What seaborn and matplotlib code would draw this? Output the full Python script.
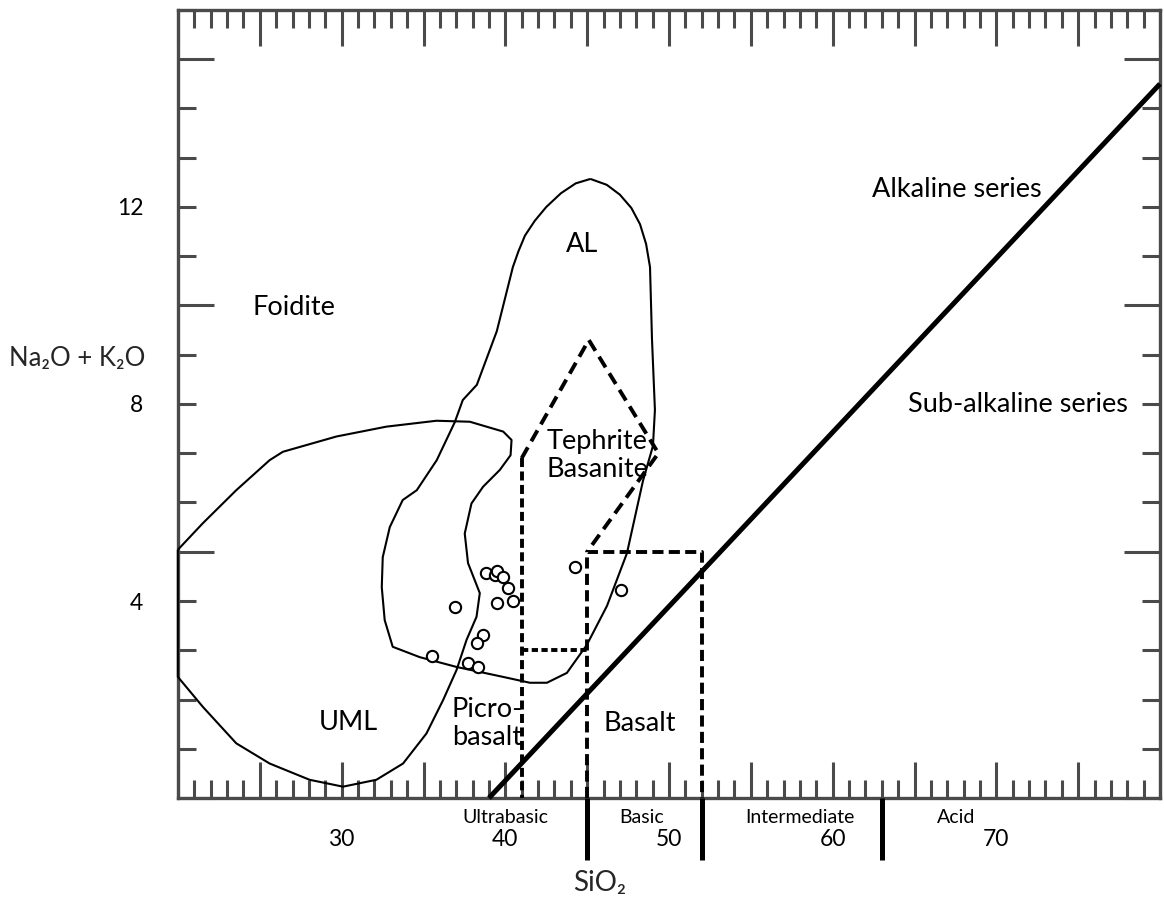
import matplotlib
matplotlib.use("Agg")
import matplotlib.pyplot as plt
import seaborn as sns
import pandas as pd
from matplotlib.ticker import MultipleLocator, FuncFormatter

sns.set_theme(style="white")
plt.rcParams["font.family"] = ["Lato", "DejaVu Sans"]
plt.rcParams["lines.scale_dashes"] = False

# ---------------- data ----------------
sample_sio2 = [38.81, 39.36, 39.48, 39.85, 40.15, 39.48, 40.46, 36.91, 38.62, 38.26,
               35.50, 37.71, 38.32, 44.25, 47.06]
sample_alk = [4.57, 4.53, 4.61, 4.49, 4.26, 3.96, 4.00, 3.88, 3.31, 3.15,
              2.88, 2.74, 2.66, 4.69, 4.22]

uml_sio2 = [19.99, 21.52, 23.56, 25.60, 26.41, 29.68, 32.73, 35.79, 37.83, 39.87,
            40.38, 40.32, 39.66, 38.64, 37.93, 37.52, 37.72, 38.44, 38.24, 37.63,
            37.02, 36.20, 35.18, 33.75, 32.12, 30.08, 28.04, 25.60, 23.56, 21.52,
            19.99, 19.99]
uml_alk = [5.04, 5.58, 6.25, 6.86, 7.03, 7.34, 7.54, 7.66, 7.64, 7.44,
           7.27, 6.96, 6.66, 6.32, 5.98, 5.37, 4.77, 4.16, 3.68, 3.21,
           2.60, 1.99, 1.31, 0.70, 0.37, 0.23, 0.37, 0.70, 1.11, 1.85,
           2.46, 5.04]

al_sio2 = [45.20, 44.30, 43.40, 42.50, 41.80, 41.20, 40.80, 40.46, 39.48, 38.26,
           37.40, 36.91, 35.81, 34.59, 33.73, 32.94, 32.51, 32.45, 32.63, 33.12,
           34.77, 37.03, 39.85, 41.50, 42.54, 43.76, 44.98, 46.21, 47.43, 48.41,
           49.02, 49.14, 49.05, 48.96, 48.84, 48.60, 48.23, 47.70, 47.00, 46.20,
           45.20]
al_alk = [12.57, 12.48, 12.28, 12.00, 11.72, 11.42, 11.10, 10.78, 9.48, 8.39,
          8.08, 7.63, 6.86, 6.25, 6.05, 5.50, 4.89, 4.28, 3.61, 3.07,
          2.86, 2.66, 2.46, 2.34, 2.34, 2.54, 3.11, 3.90, 4.97, 6.44,
          7.15, 7.88, 8.60, 9.32, 10.78, 11.25, 11.65, 11.98, 12.25, 12.45,
          12.57]

alkaline_sio2 = [39.0, 80.0]
alkaline_alk = [0.0, 14.5]

tephrite_sio2 = [41.0, 45.1, 49.35, 45.0]
tephrite_alk = [6.9, 9.3, 7.0, 5.0]
picro_v_sio2 = [41.0, 41.0]
picro_v_alk = [6.9, 0.0]
picro_h_sio2 = [41.0, 45.0]
picro_h_alk = [3.0, 3.0]
basalt_sio2 = [45.0, 45.0, 52.0, 52.0]
basalt_alk = [0.0, 5.0, 5.0, 0.0]

divider_sio2 = [45.0, 52.0, 63.0]
divider_bottom = -1.26

x_labels = [30, 40, 50, 60, 70]
y_labels = [4, 8, 12]

section_names = ["Ultrabasic", "Basic", "Intermediate", "Acid"]
section_x = [40.0, 48.3, 58.0, 67.55]

field_names = ["Foidite", "AL", "Tephrite\nBasanite", "Alkaline series",
               "Sub-alkaline series", "UML", "Picro-\nbasalt", "Basalt"]
field_x = [27.1, 44.7, 45.6, 67.6, 71.3, 30.4, 38.9, 48.2]
field_y = [9.95, 11.23, 6.95, 12.35, 7.98, 1.54, 1.52, 1.52]

# ---------------- figure ----------------
W, H = 1164, 899
fig = plt.figure(figsize=(W / 100, H / 100), dpi=100)
ax = fig.add_axes([178 / W, 1 - 798 / H, (1160 - 178) / W, (798 - 10) / H])
ax.set_xlim(20, 80)
ax.set_ylim(0, 16)


def line(xs, ys, lw, dashes=None, clip=True, z=3):
    df = pd.DataFrame({"x": xs, "y": ys})
    n0 = len(ax.lines)
    sns.lineplot(data=df, x="x", y="y", sort=False, estimator=None, color="black",
                 linewidth=lw, ax=ax, zorder=z)
    ln = ax.lines[n0]
    if dashes is not None:
        ln.set_dashes(dashes)
    ln.set_clip_on(clip)
    ln.set_solid_capstyle("butt")
    ln.set_dash_capstyle("butt")
    ln.set_solid_joinstyle("round")
    return ln


# field outlines
line(uml_sio2, uml_alk, 1.5, clip=False)
line(al_sio2, al_alk, 1.5)

# classification boundaries
line(alkaline_sio2, alkaline_alk, 3.6, clip=False)
line(tephrite_sio2, tephrite_alk, 2.8, dashes=(9, 5))
line(picro_v_sio2, picro_v_alk, 2.8, dashes=(6.5, 3.2))
line(picro_h_sio2, picro_h_alk, 2.8, dashes=(4.5, 2.5))
line(basalt_sio2, basalt_alk, 2.8, dashes=(8, 3.8))

for xd in divider_sio2:
    line([xd, xd], [0, divider_bottom], 3.6, clip=False)

# samples
sns.scatterplot(x=sample_sio2, y=sample_alk, s=66, marker="o", facecolor="white",
                edgecolor="black", linewidth=1.5, ax=ax, zorder=5)

# ---------------- axes styling ----------------
spine_col = "#4a4a4a"
for sp in ax.spines.values():
    sp.set_visible(True)
    sp.set_color(spine_col)
    sp.set_linewidth(2.4)

ax.xaxis.set_major_locator(MultipleLocator(5))
ax.xaxis.set_minor_locator(MultipleLocator(1))
ax.yaxis.set_major_locator(MultipleLocator(5))
ax.yaxis.set_minor_locator(MultipleLocator(1))
ax.xaxis.set_major_formatter(FuncFormatter(
    lambda v, p: str(int(round(v))) if int(round(v)) in x_labels else ""))
ax.xaxis.set_minor_formatter(FuncFormatter(lambda v, p: ""))
ax.yaxis.set_major_formatter(FuncFormatter(lambda v, p: ""))
ax.yaxis.set_minor_formatter(FuncFormatter(
    lambda v, p: str(int(round(v))) if int(round(v)) in y_labels else ""))

ax.tick_params(which="both", direction="in", top=True, right=True, bottom=True,
               left=True, color=spine_col, width=2.2, labelcolor="black")
ax.tick_params(which="major", length=26)
ax.tick_params(which="minor", length=13)
ax.tick_params(axis="x", which="both", pad=22, labelsize=16.5)
ax.tick_params(axis="y", which="both", pad=25, labelsize=16.5)
ax.grid(False)
ax.set_xlabel("")
ax.set_ylabel("")

# field labels
for name, fx, fy in zip(field_names, field_x, field_y):
    ax.text(fx, fy, name, ha="center", va="center", fontsize=19.5, color="black",
            linespacing=1.15, zorder=6)

# section labels below axis
for name, sx in zip(section_names, section_x):
    ax.text(sx, -0.39, name, ha="center", va="center", fontsize=14, color="black",
            clip_on=False)

# axis titles
ax.text(45.78, -1.73, "SiO\u2082", ha="center", va="center", fontsize=20, clip_on=False)
ax.text(13.85, 8.93, "Na\u2082O + K\u2082O", ha="center", va="center", fontsize=18.5,
        clip_on=False)

fig.savefig("out.png", dpi=100, facecolor="white")
